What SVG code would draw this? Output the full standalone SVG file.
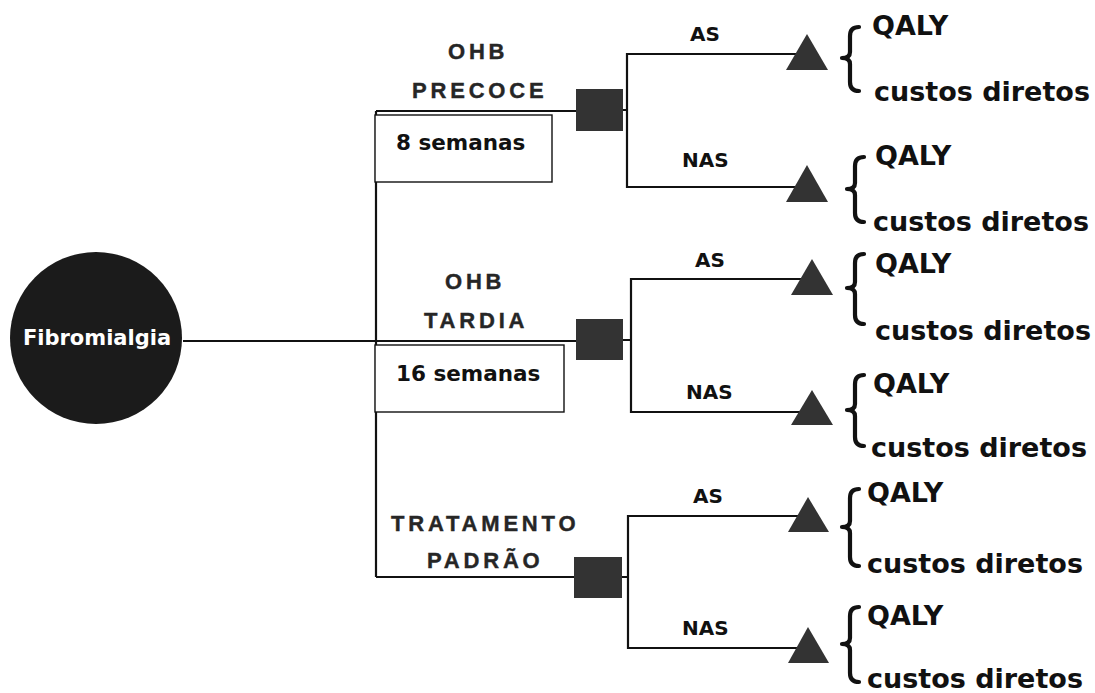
<svg xmlns="http://www.w3.org/2000/svg" width="1095" height="693" viewBox="0 0 1095 693">
  <style>
    .wire { stroke: #111; stroke-width: 2.2; fill: none; }
    .box { fill: #fff; stroke: #111; stroke-width: 1.4; }
    .decision { fill: #333; }
    .terminal { fill: #333; }
    .brace { fill: none; stroke: #111; stroke-width: 4.2; stroke-linecap: round; stroke-linejoin: round; }
    .arm { font-family: "Liberation Sans", Arial, sans-serif; font-weight: bold; font-size: 22px; letter-spacing: 3.8px; fill: #262626; stroke: #262626; stroke-width: 0.4; }
    .dur { font-family: "DejaVu Sans", sans-serif; font-weight: bold; font-size: 21.5px; fill: #111; }
    .prob { font-family: "DejaVu Sans", sans-serif; font-weight: bold; font-size: 20px; fill: #111; }
    .out { font-family: "DejaVu Sans", sans-serif; font-weight: bold; font-size: 27px; fill: #111; }
    .root { font-family: "DejaVu Sans", sans-serif; font-weight: bold; font-size: 21px; fill: #fff; }
  </style>

  <!-- connectors -->
  <g id="connectors">
    <!-- trunk -->
    <path class="wire" d="M183 341 H578"/>
    <path class="wire" d="M376 111 V577"/>
    <path class="wire" d="M376 111 H578"/>
    <path class="wire" d="M376 577 H576"/>
    <!-- chance branches -->
    <path class="wire" d="M623 110 H627 V54 H805 M627 110 V187 H805"/>
    <path class="wire" d="M623 340 H631 V279 H810 M631 340 V412 H810"/>
    <path class="wire" d="M622 577 H628 V516 H806 M628 577 V648 H806"/>
  </g>

  <!-- root node -->
  <g id="node-fibromialgia">
    <circle cx="96" cy="338" r="86" fill="#1b1b1b"/>
    <text class="root" x="97" y="345" text-anchor="middle">Fibromialgia</text>
  </g>

  <!-- strategy: early HBOT -->
  <g id="node-ohb-precoce">
    <text class="arm" x="448" y="59">OHB</text>
    <text class="arm" x="412" y="98">PRECOCE</text>
    <rect class="box" x="375" y="115" width="177" height="67"/>
    <text class="dur" x="396" y="150">8 semanas</text>
    <rect class="decision" x="576" y="89" width="47" height="42"/>
  </g>

  <!-- strategy: late HBOT -->
  <g id="node-ohb-tardia">
    <text class="arm" x="445" y="289">OHB</text>
    <text class="arm" x="424" y="328">TARDIA</text>
    <rect class="box" x="375" y="345" width="189" height="67"/>
    <text class="dur" x="396" y="381">16 semanas</text>
    <rect class="decision" x="576" y="319" width="47" height="41"/>
  </g>

  <!-- strategy: standard care -->
  <g id="node-tratamento-padrao">
    <text class="arm" x="391" y="531">TRATAMENTO</text>
    <text class="arm" x="427" y="568">PADRÃO</text>
    <rect class="decision" x="574" y="557" width="48" height="41"/>
  </g>

  <!-- branch labels -->
  <g id="branch-labels">
    <text class="prob" x="690" y="41">AS</text>
    <text class="prob" x="682" y="167">NAS</text>
    <text class="prob" x="695" y="267">AS</text>
    <text class="prob" x="686" y="399">NAS</text>
    <text class="prob" x="693" y="503">AS</text>
    <text class="prob" x="682" y="635">NAS</text>
  </g>

  <!-- terminal nodes with outcomes -->
  <g id="terminal-1">
    <polygon class="terminal" points="807,34 828,70 786,70"/>
    <path class="brace" d="M859 27 Q850 27 850 36 V52 Q850 58 842 58 Q850 58 850 64 V82 Q850 91 859 91"/>
    <text class="out" x="872" y="35">QALY</text>
    <text class="out" x="874" y="101">custos diretos</text>
  </g>
  <g id="terminal-2">
    <polygon class="terminal" points="807,165 828,202 786,202"/>
    <path class="brace" d="M864 157 Q855 157 855 166 V183 Q855 189 847 189 Q855 189 855 195 V213 Q855 222 864 222"/>
    <text class="out" x="875" y="165">QALY</text>
    <text class="out" x="873" y="231">custos diretos</text>
  </g>
  <g id="terminal-3">
    <polygon class="terminal" points="812,259 833,295 791,295"/>
    <path class="brace" d="M864 254 Q855 254 855 263 V282 Q855 288 847 288 Q855 288 855 294 V315 Q855 324 864 324"/>
    <text class="out" x="875" y="273">QALY</text>
    <text class="out" x="875" y="340">custos diretos</text>
  </g>
  <g id="terminal-4">
    <polygon class="terminal" points="812,390 833,425 791,425"/>
    <path class="brace" d="M864 375 Q855 375 855 384 V404 Q855 410 847 410 Q855 410 855 416 V437 Q855 446 864 446"/>
    <text class="out" x="873" y="393">QALY</text>
    <text class="out" x="871" y="457">custos diretos</text>
  </g>
  <g id="terminal-5">
    <polygon class="terminal" points="808,497 829,532 788,532"/>
    <path class="brace" d="M859 489 Q850 489 850 498 V521 Q850 527 842 527 Q850 527 850 533 V557 Q850 566 859 566"/>
    <text class="out" x="867" y="502">QALY</text>
    <text class="out" x="867" y="573">custos diretos</text>
  </g>
  <g id="terminal-6">
    <polygon class="terminal" points="808,627 829,663 788,663"/>
    <path class="brace" d="M859 607 Q850 607 850 616 V638 Q850 644 842 644 Q850 644 850 650 V673 Q850 682 859 682"/>
    <text class="out" x="867" y="625">QALY</text>
    <text class="out" x="867" y="688">custos diretos</text>
  </g>
</svg>
